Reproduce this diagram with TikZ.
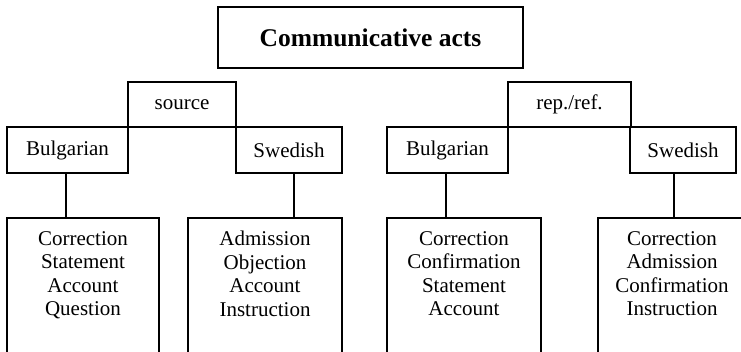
\documentclass[tikz,border=0pt]{standalone}
\usepackage{fontspec}
\setmainfont{Liberation Serif}
\begin{document}
\begin{tikzpicture}[x=1pt,y=-1pt,
  box/.style={draw, line width=1.1pt, inner sep=0pt, anchor=center},
  lbl/.style={font=\fontsize{21}{23.5}\selectfont, align=center, inner sep=0pt},
  conn/.style={line width=1.1pt}]
\useasboundingbox (0,0) rectangle (741,352);
\clip (0,0) rectangle (741,352);
\fill[white] (0,0) rectangle (741,352);
% title
\node[box, minimum width=305pt, minimum height=61pt, font=\fontsize{25.5}{28}\selectfont\bfseries] (top) at (370.5,37.5) {Communicative acts};
% groups
\node[box, lbl, minimum width=108pt, minimum height=45pt] (src) at (182,104.5) {source};
\node[box, lbl, minimum width=121pt, minimum height=46pt] (bl) at (67.5,150) {Bulgarian};
\node[box, lbl, minimum width=106pt, minimum height=46pt] (sl) at (289,150) {Swedish};
\node[box, lbl, minimum width=123pt, minimum height=45pt] (rep) at (569.5,104.5) {rep./ref.};
\node[box, lbl, minimum width=121pt, minimum height=46pt] (br) at (447.5,150) {Bulgarian};
\node[box, lbl, minimum width=106pt, minimum height=46pt] (sr) at (683,150) {Swedish};
% bottom boxes
\node[box, minimum width=152pt, minimum height=160pt] (bl2) at (83,298) {};
\node[box, minimum width=154pt, minimum height=160pt] (sl2) at (265,298) {};
\node[box, minimum width=154pt, minimum height=160pt] (br2) at (464,298) {};
\node[box, minimum width=148pt, minimum height=160pt] (sr2) at (672,298) {};
\node[lbl, anchor=north] (t1) at ([yshift=-13.5pt]bl2.north) {Correction\\Statement\\Account\\Question};
\node[lbl, anchor=north] (t2) at ([yshift=-13.5pt]sl2.north) {Admission\\Objection\\Account\\Instruction};
\node[lbl, anchor=north] (t3) at ([yshift=-13.5pt]br2.north) {Correction\\Confirmation\\Statement\\Account};
\node[lbl, anchor=north] (t4) at ([yshift=-13.5pt]sr2.north) {Correction\\Admission\\Confirmation\\Instruction};
% connectors
\draw[conn] ([xshift=-1.5pt]bl.south) -- ([xshift=-1.5pt]bl.south |- bl2.north);
\draw[conn] ([xshift=5pt]sl.south) -- ([xshift=5pt]sl.south |- sl2.north);
\draw[conn] ([xshift=-1.5pt]br.south) -- ([xshift=-1.5pt]br.south |- br2.north);
\draw[conn] ([xshift=-9pt]sr.south) -- ([xshift=-9pt]sr.south |- sr2.north);
\end{tikzpicture}
\end{document}
